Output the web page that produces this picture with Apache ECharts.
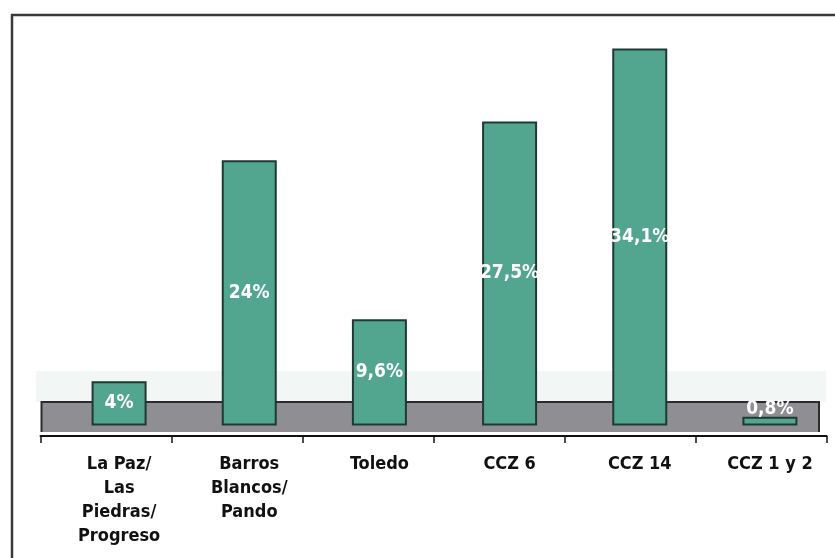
<!DOCTYPE html>
<html><head><meta charset="utf-8">
<script src="https://cdn.jsdelivr.net/npm/echarts@6/dist/echarts.min.js"></script>
<style>html,body{margin:0;padding:0;background:#fff}#c{width:835px;height:558px}</style>
</head><body><div id="c"></div>
<script>
const categories = ['La Paz/\nLas\nPiedras/\nProgreso', 'Barros\nBlancos/\nPando', 'Toledo', 'CCZ 6', 'CCZ 14', 'CCZ 1 y 2'];
const values = [4, 24, 9.6, 27.5, 34.1, 0.8];
const valueLabels = ['4%', '24%', '9,6%', '27,5%', '34,1%', '0,8%'];

const chart = echarts.init(document.getElementById('c'));
const fontCond = '"Liberation Sans Narrow", "DejaVu Sans Condensed", "Liberation Sans", sans-serif';

chart.setOption({
  animation: false,
  backgroundColor: '#ffffff',
  grid: [
    { left: 54, right: -5, top: 27.5, bottom: 132.5 },
    { left: 40.5, right: 8.5, top: 27.5, bottom: 122 }
  ],
  graphic: [
    { type: 'rect', z: -20, shape: { x: 12, y: 15, width: 840, height: 560 },
      style: { fill: '#ffffff', stroke: '#3a3a3a', lineWidth: 2.5 } },
    { type: 'rect', z: -15, shape: { x: 36, y: 371, width: 790, height: 31 },
      style: { fill: '#f2f7f5' } },
    { type: 'rect', z: -12, shape: { x: 41.5, y: 402, width: 777.5, height: 30 },
      style: { fill: '#8e8e93', stroke: null } },
    { type: 'polyline', z: -11, shape: { points: [[41.5, 432], [41.5, 402], [819, 402], [819, 432]] },
      style: { fill: null, stroke: '#2b2b2b', lineWidth: 2 } }
  ],
  xAxis: [
    { type: 'category', gridIndex: 0, data: categories,
      axisLine: { show: false }, axisTick: { show: false },
      axisLabel: { interval: 0, margin: 27, color: '#111', fontFamily: fontCond, fontWeight: 'bold',
                   fontSize: 18, lineHeight: 24, align: 'center' } },
    { type: 'category', gridIndex: 1, data: categories,
      axisLine: { show: true, lineStyle: { color: '#111', width: 2 } },
      axisTick: { show: true, length: 7, lineStyle: { color: '#111', width: 1.5 } },
      axisLabel: { show: false } }
  ],
  yAxis: [
    { type: 'value', gridIndex: 0, min: 0, max: 36, show: false, splitLine: { show: false } },
    { type: 'value', gridIndex: 1, min: 0, max: 36, show: false, splitLine: { show: false } }
  ],
  series: [
    { type: 'bar', xAxisIndex: 0, yAxisIndex: 0, barWidth: 55,
      data: values.map((v, i) => ({
        value: v,
        label: { position: i === 5 ? 'top' : 'inside', distance: -2 }
      })),
      itemStyle: { color: '#52a58f', borderColor: '#1f3a33', borderWidth: 2 },
      label: { show: true, color: '#ffffff', fontFamily: fontCond, fontWeight: 'bold', fontSize: 19,
               formatter: p => valueLabels[p.dataIndex] } }
  ]
});
</script></body></html>
